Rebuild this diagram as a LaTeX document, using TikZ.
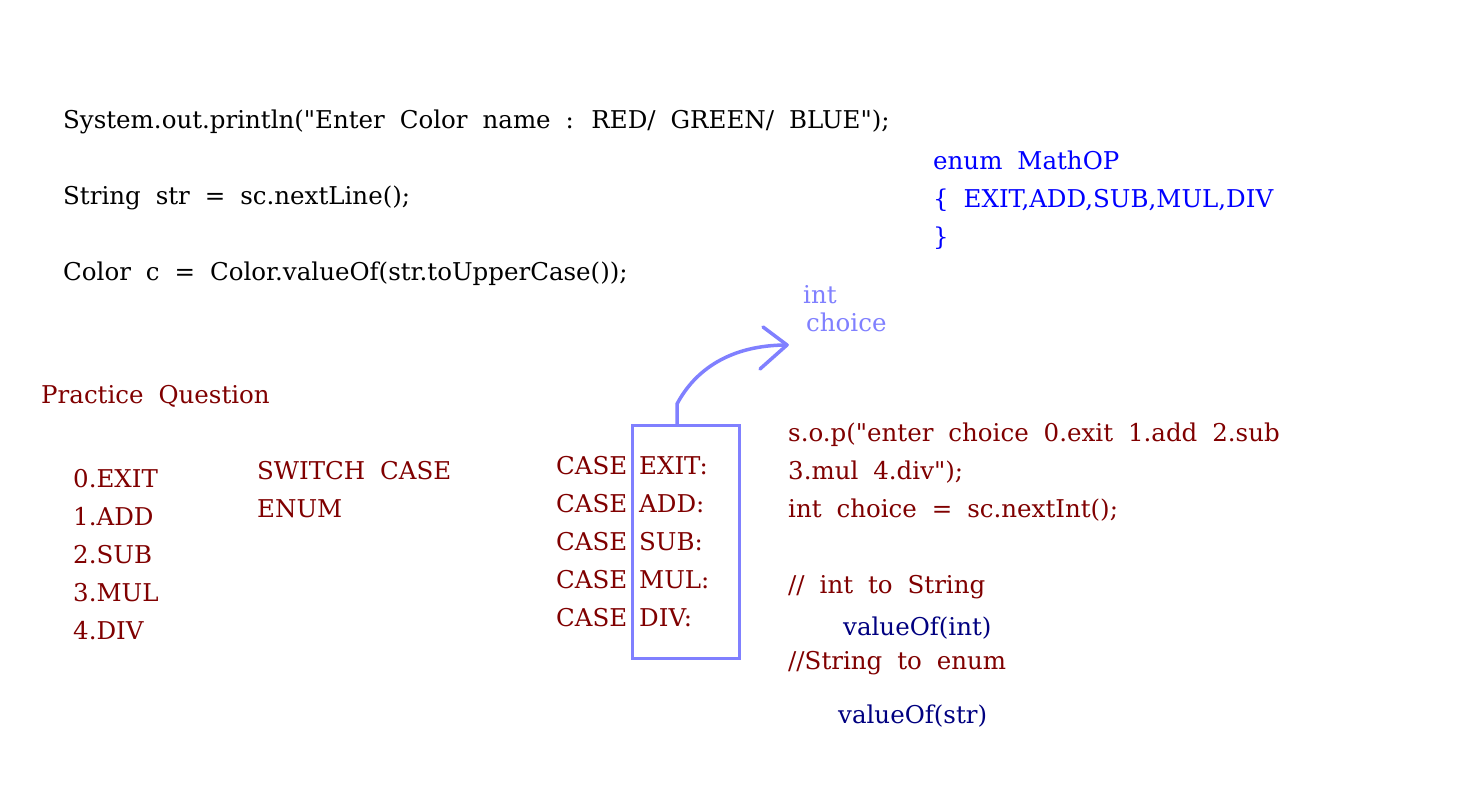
\documentclass[tikz,border=0pt]{standalone}
\usepackage{fontspec}
\setmainfont{DejaVu Serif}[Ligatures=TeXOff]
\newcommand\myfnt{\fontsize{24.5}{29}\selectfont\spaceskip 0.61em plus 0.1em\relax}
\begin{document}
\begin{tikzpicture}[x=1pt,y=-1pt,
  txt/.style={anchor=base west,inner sep=0pt,font=\myfnt},
  blk/.style={txt,text=black},
  rd/.style={txt,text=dred},
  blu/.style={txt,text=blue},
  nav/.style={txt,text=navyc},
  lbl/.style={txt,text=lblue},
  pen/.style={draw=lblue,line width=3.5pt,line cap=round,line join=round}]
\definecolor{dred}{RGB}{128,0,0}
\definecolor{navyc}{RGB}{0,0,128}
\definecolor{lblue}{RGB}{128,128,255}
\useasboundingbox[fill=white] (0,0) rectangle (1481,794);
% top code
\node[blk] (l1) at (63,129) {System.out.println("Enter Color name : RED/ GREEN/ BLUE");};
\node[blk] (l2) at (63,205) {String str = sc.nextLine();};
\node[blk] (l3) at (63,281) {Color c = Color.valueOf(str.toUpperCase());};
% enum
\node[blu] (e1) at (933,170) {enum MathOP};
\node[blu] (e2) at (933,208) {\{ EXIT,ADD,SUB,MUL,DIV};
\node[blu] (e3) at (933,246) {\}};
% int choice
\node[lbl] (ic1) at (803,304) {int};
\node[lbl] (ic2) at (806,332) {choice};
% practice
\node[rd] (pq) at (41,403) {Practice Question};
\node[rd] (o0) at (73,487) {0.EXIT};
\node[rd] (o1) at (73,525) {1.ADD};
\node[rd] (o2) at (73,563) {2.SUB};
\node[rd] (o3) at (73,601) {3.MUL};
\node[rd] (o4) at (73,639) {4.DIV};
\node[rd] (sw) at (257,479) {SWITCH CASE};
\node[rd] (en) at (257,517) {ENUM};
% cases
\foreach \i/\n in {0/EXIT,1/ADD,2/SUB,3/MUL,4/DIV}{
  \node[rd] (c\i) at (556,474+38*\i) {CASE};
  \node[rd] (k\i) at (639,474+38*\i) {\n:};
}
\node[draw=lblue,line width=2.5pt,minimum width=107pt,minimum height=233pt,inner sep=0pt,anchor=north west] (box) at (631,424) {};
% arrow
\coordinate (tip) at (787,345);
\coordinate (st) at (677,424);
\draw[pen] (st) -- (677,404) .. controls (695,370) and (730,345) .. (tip);
\draw[pen] (763,327) -- (tip) -- (760,369);
% right code
\node[rd] (r1) at (788,441) {s.o.p("enter choice 0.exit 1.add 2.sub};
\node[rd] (r2) at (788,479) {3.mul 4.div");};
\node[rd] (r3) at (788,517) {int choice = sc.nextInt();};
\node[rd] (r4) at (788,593) {// int to String};
\node[nav] (v1) at (843,635) {valueOf(int)};
\node[rd] (r5) at (788,669) {//String to enum};
\node[nav] (v2) at (838,723) {valueOf(str)};
\end{tikzpicture}
\end{document}
